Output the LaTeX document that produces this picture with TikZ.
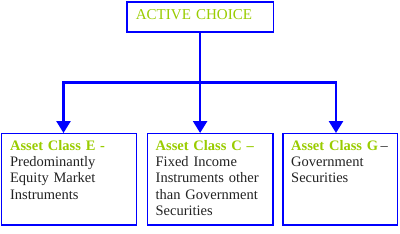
\documentclass[tikz,border=0pt]{standalone}
\usepackage{xcolor}
\usepackage{fontspec}
\setmainfont{Liberation Serif}
\usepackage{tikz}
\usetikzlibrary{arrows.meta,positioning,calc}

\definecolor{lineblue}{HTML}{0000FF}
\definecolor{labelgreen}{HTML}{99CC00}
\definecolor{bodygray}{HTML}{222222}

\begin{document}
\begin{tikzpicture}[
x=0.025cm, y=-0.025cm,
choicebox/.style={
    draw=lineblue,
    line width=1.2pt,
    anchor=north west,
    inner xsep=6.4pt,
    inner ysep=0pt,
    text width=91.4pt,
    text height=12.3pt,
    text depth=9.3pt,
    align=left,
    text=labelgreen,
    font=\fontsize{10.7}{11.6}\selectfont
},
assetbox/.style={
    draw=lineblue,
    line width=1pt,
    inner xsep=6pt,
    inner ysep=0pt,
    text height=11.8pt,
    text depth=53.1pt,
    align=left,
    text=bodygray,
    font=\fontsize{10.3}{11.6}\selectfont
},
connector/.style={draw=lineblue, line width=1.6pt},
arrow/.style={connector, -{Triangle[length=8.5pt, width=10pt]}}
]
\useasboundingbox (0,0) rectangle (400,233);

\node[choicebox] (choice) at (126,1) {ACTIVE CHOICE};
\node[assetbox, anchor=north west, text width=83.7pt] (e) at (1,133)
    {\textbf{\textcolor{labelgreen}{Asset Class E -}}\\Predominantly\\Equity Market\\Instruments};
\node[assetbox, text width=77.3pt, right=6.8pt of e] (c)
    {\textbf{\textcolor{labelgreen}{Asset Class C --}}\\Fixed Income\\Instruments other\\than Government\\Securities};
\node[assetbox, text width=69.5pt, right=6.1pt of c] (g)
    {\mbox{\textbf{\textcolor{labelgreen}{Asset Class G}}\,--}\\Government\\Securities};

\coordinate (jl) at (63.5,82.5);
\coordinate (jr) at (336,82.5);

\draw[arrow] (choice.south) -- (choice.south |- c.north);
\draw[arrow] (jr) -- (jl) -- (jl |- e.north);
\draw[arrow] (jl) -- (jr) -- (jr |- g.north);

\end{tikzpicture}
\end{document}
